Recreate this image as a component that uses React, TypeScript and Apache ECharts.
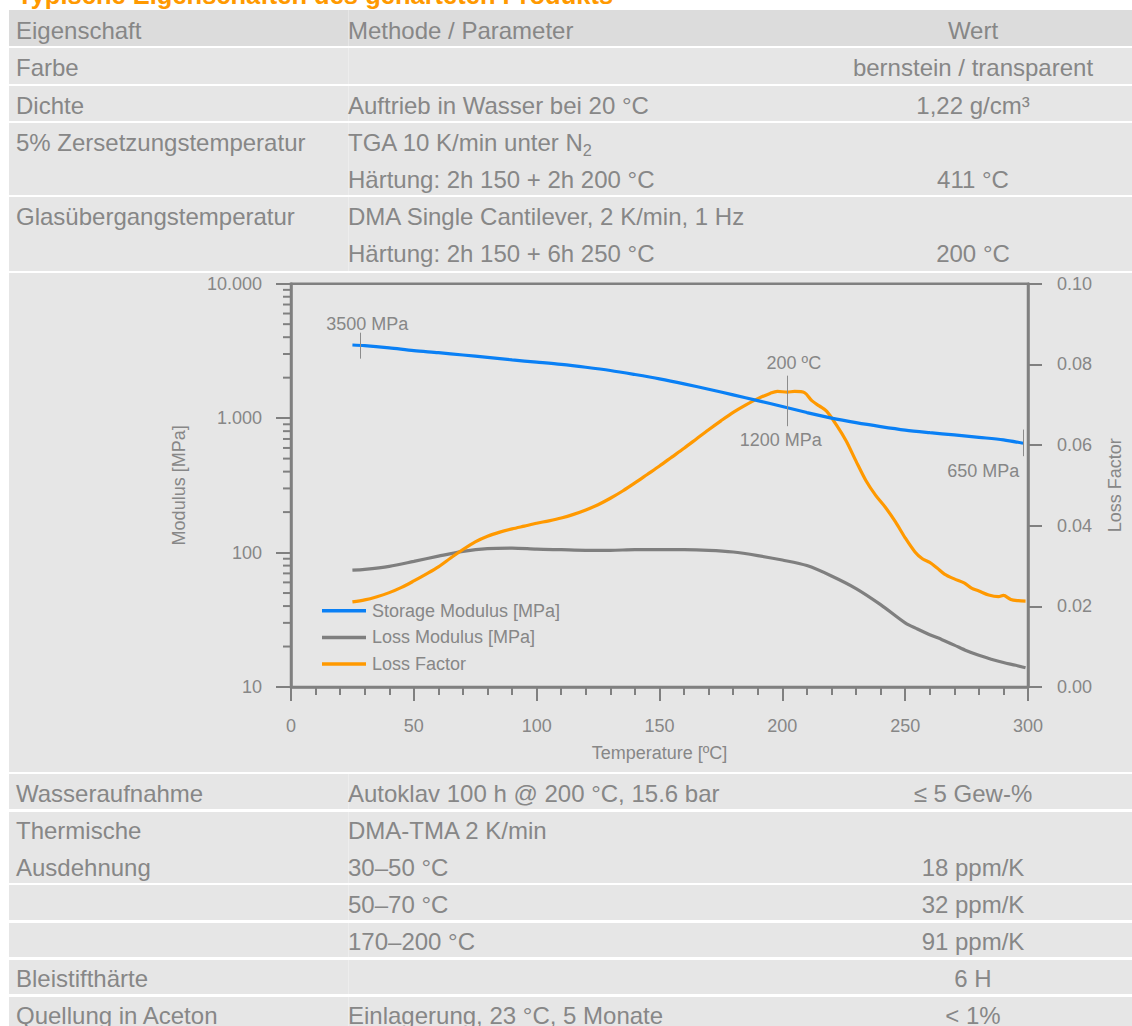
import React, { useEffect, useRef } from "react";
import * as echarts from "echarts";

const FONT = '"Liberation Sans", Arial, Helvetica, sans-serif';
const TEXT_GREY = "#878787";
const AXIS_GREY = "#808080";
const BLUE = "#0a80f5";
const GREY_LINE = "#7f7f7f";
const ORANGE = "#ff9900";

// ---------- chart data ----------
const storageT = [25, 30, 40, 50, 60, 70, 80, 90, 100, 110, 120, 130, 140, 150, 160, 170, 180, 190, 200, 210, 220, 230, 240, 250, 260, 270, 280, 290, 298];
const storageMPa = [3500, 3460, 3330, 3180, 3070, 2950, 2830, 2710, 2610, 2510, 2390, 2260, 2110, 1960, 1800, 1640, 1490, 1350, 1220, 1100, 1000, 925, 865, 815, 780, 750, 720, 690, 650];

const lossModT = [25, 30, 40, 50, 60, 70, 80, 90, 100, 110, 120, 130, 140, 150, 160, 170, 180, 190, 200, 210, 220, 230, 240, 250, 255, 260, 265, 270, 275, 280, 285, 290, 295, 299];
const lossModMPa = [74, 75, 79, 86, 94, 102, 107, 108, 106, 105, 104, 104, 105, 105, 105, 104, 101, 95, 88, 80, 67, 54, 41, 30, 27, 24.5, 22.5, 20.5, 18.6, 17.2, 16.1, 15.2, 14.5, 13.9];

const lossFactorT = [25, 30, 35, 40, 45, 50, 55, 60, 65, 70, 75, 80, 85, 90, 95, 100, 105, 110, 115, 120, 125, 130, 135, 140, 145, 150, 155, 160, 165, 170, 175, 180, 185, 190, 195, 198, 202, 205, 209, 212, 215, 218, 222, 226, 230, 234, 238, 242, 246, 250, 254, 257, 260, 263, 266, 270, 274, 277, 280, 284, 288, 290, 293, 296, 299];
const lossFactorVal = [0.0211, 0.0216, 0.0224, 0.0234, 0.0247, 0.0263, 0.028, 0.0298, 0.032, 0.0341, 0.036, 0.0374, 0.0384, 0.0392, 0.0399, 0.0406, 0.0412, 0.0419, 0.0428, 0.0439, 0.0452, 0.0468, 0.0486, 0.0506, 0.0527, 0.0548, 0.057, 0.0592, 0.0615, 0.0638, 0.066, 0.0681, 0.0699, 0.0715, 0.0728, 0.0733, 0.0731, 0.0733, 0.073, 0.071, 0.0697, 0.0684, 0.065, 0.061, 0.056, 0.0512, 0.0475, 0.0445, 0.041, 0.037, 0.0335, 0.0318, 0.0309, 0.0295, 0.028, 0.0268, 0.0258, 0.0245, 0.0238, 0.0228, 0.0224, 0.0227, 0.0217, 0.0214, 0.0213];

const seriesNames = ["Storage Modulus [MPa]", "Loss Modulus [MPa]", "Loss Factor"];
const logMinorTicks = [20, 30, 40, 50, 60, 70, 80, 90, 200, 300, 400, 500, 600, 700, 800, 900, 2000, 3000, 4000, 5000, 6000, 7000, 8000, 9000];

// annotations: [label, T, MPa]
const annotationLabels: [string, number, number][] = [
  ["3500 MPa", 31, 5000],
  ["200 ºC", 204.7, 2560],
  ["1200 MPa", 199.4, 693],
  ["650 MPa", 281.8, 405],
];
// annotation tick marks: [T, MPa from, MPa to]
const annotationTicks: [number, number, number][] = [
  [28, 4320, 2770],
  [202, 2070, 871],
  [298, 822, 521],
];

// ---------- table data ----------
const headerCells = ["Eigenschaft", "Methode / Parameter", "Wert"];
const upperBlocks: string[][][] = [
  [["Farbe", "", "bernstein / transparent"]],
  [["Dichte", "Auftrieb in Wasser bei 20 °C", "1,22 g/cm³"]],
  [["5% Zersetzungstemperatur", "TGA 10 K/min unter N_2", ""], ["", "Härtung: 2h 150 + 2h 200 °C", "411 °C"]],
  [["Glasübergangstemperatur", "DMA Single Cantilever, 2 K/min, 1 Hz", ""], ["", "Härtung: 2h 150 + 6h 250 °C", "200 °C"]],
];
const lowerBlocks: string[][][] = [
  [["Wasseraufnahme", "Autoklav 100 h @ 200 °C, 15.6 bar", "≤ 5 Gew-%"]],
  [["Thermische", "DMA-TMA 2 K/min", ""], ["Ausdehnung", "30–50 °C", "18 ppm/K"]],
  [["", "50–70 °C", "32 ppm/K"]],
  [["", "170–200 °C", "91 ppm/K"]],
  [["Bleistifthärte", "", "6 H"]],
  [["Quellung in Aceton", "Einlagerung, 23 °C, 5 Monate", "< 1%"]],
];
const titleText = "Typische Eigenschaften des gehärteten Produkts";

// ---------- layout ----------
const HEADER_BOX = [10, 46];
const UPPER_BOXES = [[48.3, 84], [86.2, 120.8], [123.3, 195], [197.3, 270.7]];
const CHART_BOX = [273.3, 771.7];
const LOWER_BOXES = [[774.3, 809.3], [811.6, 882.7], [885, 920], [922.5, 957.3], [959.7, 994], [996.7, 1040]];
const TABLE_FS = 24;
const LINE_PITCH = 37;
const BASE_OFF = 28;
const COL1_X = 16;
const COL2_X = 348;
const COL3_CX = 973;

function germanThousands(v: number): string {
  return String(Math.round(v)).replace(/\B(?=(\d{3})+(?!\d))/g, ".");
}

function CellText({ text, x, baseline, center }: { text: string; x: number; baseline: number; center?: boolean }) {
  if (!text) return null;
  const top = baseline - 0.8465 * TABLE_FS;
  let content: React.ReactNode = text;
  if (text.includes("_2")) {
    const [a, b] = text.split("_2");
    content = (
      <>
        {a}
        <sub style={{ fontSize: "0.68em", verticalAlign: "-0.28em", lineHeight: 0 }}>2</sub>
        {b}
      </>
    );
  }
  const style: React.CSSProperties = {
    position: "absolute",
    top,
    fontSize: TABLE_FS,
    lineHeight: `${TABLE_FS}px`,
    color: TEXT_GREY,
    whiteSpace: "nowrap",
    fontFamily: FONT,
  };
  if (center) {
    style.left = x - 250;
    style.width = 500;
    style.textAlign = "center";
  } else {
    style.left = x;
  }
  return <div style={style}>{content}</div>;
}

function Block({ box, lines, bg, extra = 0 }: { box: number[]; lines: string[][]; bg: string; extra?: number }) {
  return (
    <>
      <div style={{ position: "absolute", left: 9, top: box[0], width: 1200, height: box[1] - box[0], background: bg }} />
      <div style={{ position: "absolute", left: 348, top: box[0], width: 1, height: box[1] - box[0], background: "rgba(255,255,255,0.3)" }} />
      {lines.map((ln, i) => {
        const baseline = box[0] + BASE_OFF + extra + i * LINE_PITCH;
        return (
          <React.Fragment key={i}>
            <CellText text={ln[0]} x={COL1_X} baseline={baseline} />
            <CellText text={ln[1]} x={COL2_X} baseline={baseline} />
            <CellText text={ln[2]} x={COL3_CX} baseline={baseline} center />
          </React.Fragment>
        );
      })}
    </>
  );
}

function Chart() {
  const ref = useRef<HTMLDivElement>(null);
  useEffect(() => {
    if (!ref.current) return;
    const chart = echarts.init(ref.current, null, { renderer: "svg" });
    const chartTop = CHART_BOX[0];
    const chartH = CHART_BOX[1] - CHART_BOX[0];
    const plotTop = 284;
    const plotBottom = 687.7;
    const storage = storageT.map((t, i) => [t, storageMPa[i]]);
    const lossMod = lossModT.map((t, i) => [t, lossModMPa[i]]);
    const lossFac = lossFactorT.map((t, i) => [t, lossFactorVal[i]]);
    const labelStyle = { fontSize: 18, color: TEXT_GREY, fontFamily: FONT };

    chart.setOption({
      animation: false,
      textStyle: { fontFamily: FONT, color: TEXT_GREY },
      grid: {
        left: 291,
        right: 1132 - 1033,
        top: plotTop - chartTop,
        bottom: chartTop + chartH - plotBottom,
        show: true,
        borderColor: AXIS_GREY,
        borderWidth: 2.5,
        backgroundColor: "transparent",
      },
      legend: {
        data: seriesNames,
        orient: "vertical",
        left: 317,
        top: 606 - chartTop - 9,
        itemWidth: 44,
        itemHeight: 3.5,
        itemGap: 8.7,
        icon: "rect",
        selectedMode: false,
        textStyle: { fontSize: 18, color: TEXT_GREY, lineHeight: 18, padding: [0, 0, 0, 1], fontFamily: FONT },
      },
      xAxis: {
        type: "value",
        min: 0,
        max: 300,
        interval: 50,
        name: "Temperature [ºC]",
        nameLocation: "middle",
        nameGap: 57,
        nameTextStyle: labelStyle,
        axisLine: { show: true, lineStyle: { color: AXIS_GREY, width: 2.5 } },
        axisTick: { show: true, inside: false, length: 14, lineStyle: { color: AXIS_GREY, width: 2 } },
        minorTick: { show: true, splitNumber: 5, length: 8, lineStyle: { color: AXIS_GREY, width: 2 } },
        axisLabel: { margin: 30, ...labelStyle },
        splitLine: { show: false },
        minorSplitLine: { show: false },
      },
      yAxis: [
        {
          type: "log",
          logBase: 10,
          min: 10,
          max: 10000,
          position: "left",
          name: "Modulus [MPa]",
          nameLocation: "middle",
          nameRotate: 90,
          nameGap: 103,
          nameTextStyle: labelStyle,
          axisLine: { show: true, lineStyle: { color: AXIS_GREY, width: 2.5 } },
          axisTick: { show: true, inside: false, length: 15, lineStyle: { color: AXIS_GREY, width: 2 } },
          axisLabel: { margin: 29, formatter: (v: number) => germanThousands(v), ...labelStyle },
          splitLine: { show: false },
        },
        {
          type: "value",
          min: 0,
          max: 0.1,
          interval: 0.02,
          position: "right",
          name: "Loss Factor",
          nameLocation: "middle",
          nameRotate: 90,
          nameGap: 78,
          nameTextStyle: labelStyle,
          axisLine: { show: true, lineStyle: { color: AXIS_GREY, width: 2.5 } },
          axisTick: { show: true, inside: false, length: 14, lineStyle: { color: AXIS_GREY, width: 2 } },
          axisLabel: { margin: 29, formatter: (v: number) => v.toFixed(2), ...labelStyle },
          splitLine: { show: false },
        },
      ],
      series: [
        {
          type: "line",
          name: seriesNames[1],
          yAxisIndex: 0,
          data: lossMod,
          symbol: "none",
          showSymbol: false,
          smooth: 0.3,
          lineStyle: { color: GREY_LINE, width: 3.2 },
          itemStyle: { color: GREY_LINE },
          z: 2,
        },
        {
          type: "line",
          name: seriesNames[2],
          yAxisIndex: 1,
          data: lossFac,
          symbol: "none",
          showSymbol: false,
          smooth: 0.3,
          lineStyle: { color: ORANGE, width: 3.2 },
          itemStyle: { color: ORANGE },
          z: 2,
        },
        {
          type: "line",
          name: seriesNames[0],
          yAxisIndex: 0,
          data: storage,
          symbol: "none",
          showSymbol: false,
          smooth: 0.3,
          lineStyle: { color: BLUE, width: 3.2 },
          itemStyle: { color: BLUE },
          z: 3,
          markLine: {
            silent: true,
            symbol: "none",
            animation: false,
            label: { show: false },
            lineStyle: { color: "#8c8c8c", width: 1, type: "solid" },
            data: annotationTicks.map(([t, a, b]) => [{ coord: [t, a] }, { coord: [t, b] }]),
          },
          markPoint: {
            silent: true,
            symbol: "circle",
            symbolSize: 0,
            animation: false,
            label: { show: true, position: "inside", formatter: "{b}", ...labelStyle },
            data: annotationLabels.map(([name, t, v]) => ({ name, coord: [t, v] })),
          },
        },
        {
          type: "custom",
          name: "logMinorTicks",
          coordinateSystem: "cartesian2d",
          xAxisIndex: 0,
          yAxisIndex: 0,
          silent: true,
          clip: false,
          z: 5,
          data: logMinorTicks.map((v) => [0, v]),
          renderItem: (params: any, api: any) => {
            const p = api.coord([api.value(0), api.value(1)]);
            return {
              type: "line",
              shape: { x1: p[0] - 8, y1: p[1], x2: p[0], y2: p[1] },
              style: { stroke: AXIS_GREY, lineWidth: 2 },
            };
          },
        },
      ],
    });
    return () => chart.dispose();
  }, []);
  return (
    <div
      ref={ref}
      style={{ position: "absolute", left: 0, top: CHART_BOX[0], width: 1132, height: CHART_BOX[1] - CHART_BOX[0] }}
    />
  );
}

export default function App() {
  const titleFs = 25.5;
  return (
    <div style={{ position: "absolute", left: 0, top: 0, width: 1132, height: 1026, overflow: "hidden", background: "#ffffff", fontFamily: FONT }}>
      <div
        style={{
          position: "absolute",
          left: 17,
          top: 5 - 0.8465 * titleFs,
          fontSize: titleFs,
          lineHeight: `${titleFs}px`,
          fontWeight: "bold",
          color: ORANGE,
          whiteSpace: "nowrap",
          fontFamily: FONT,
        }}
      >
        {titleText}
      </div>
      <Block box={HEADER_BOX} lines={[headerCells]} bg="#dcdcdc" extra={1} />
      {upperBlocks.map((b, i) => (
        <Block key={"u" + i} box={UPPER_BOXES[i]} lines={b} bg="#e6e6e6" />
      ))}
      <div style={{ position: "absolute", left: 9, top: CHART_BOX[0], width: 1200, height: CHART_BOX[1] - CHART_BOX[0], background: "#e6e6e6" }} />
      {lowerBlocks.map((b, i) => (
        <Block key={"l" + i} box={LOWER_BOXES[i]} lines={b} bg="#e6e6e6" />
      ))}
      <Chart />
    </div>
  );
}
